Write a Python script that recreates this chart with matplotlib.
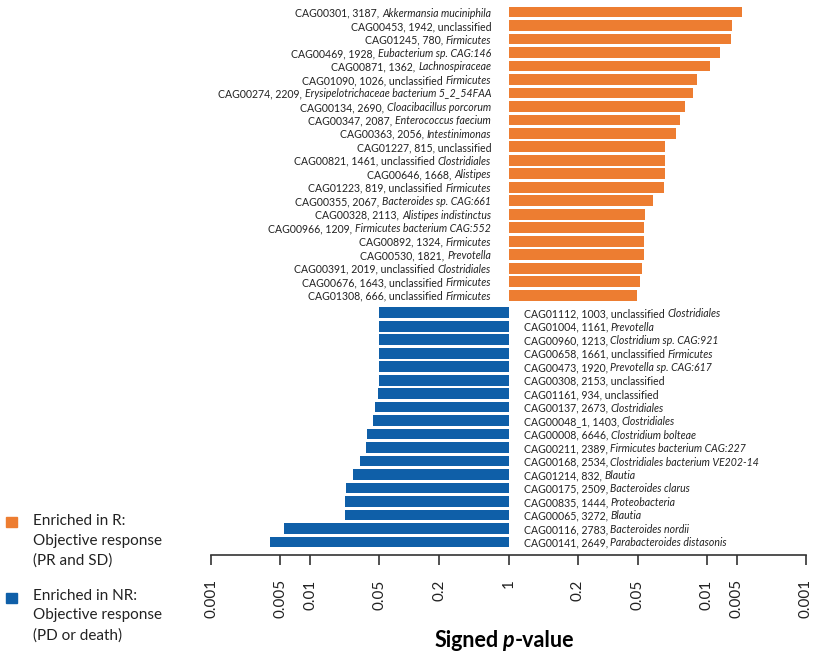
import matplotlib
matplotlib.use("Agg")
import matplotlib.pyplot as plt
from matplotlib.patches import Rectangle
from matplotlib.transforms import ScaledTranslation
import numpy as np

plt.rcParams['font.family'] = ['Lato', 'DejaVu Sans']

# ---------------- data ----------------
# Enriched in R (orange), top to bottom
r_cag = ["CAG00301", "CAG00453", "CAG01245", "CAG00469", "CAG00871", "CAG01090",
         "CAG00274", "CAG00134", "CAG00347", "CAG00363", "CAG01227", "CAG00821",
         "CAG00646", "CAG01223", "CAG00355", "CAG00328", "CAG00966", "CAG00892",
         "CAG00530", "CAG00391", "CAG00676", "CAG01308"]
r_size = [3187, 1942, 780, 1928, 1362, 1026, 2209, 2690, 2087, 2056, 815, 1461,
          1668, 819, 2067, 2113, 1209, 1324, 1821, 2019, 1643, 666]
r_plain = ["", "unclassified", "", "", "", "unclassified", "", "", "", "", "unclassified",
           "unclassified", "", "unclassified", "", "", "", "", "", "unclassified",
           "unclassified", "unclassified"]
r_italic = ["Akkermansia muciniphila", "", "Firmicutes", "Eubacterium sp. CAG:146",
            "Lachnospiraceae", "Firmicutes", "Erysipelotrichaceae bacterium 5_2_54FAA",
            "Cloacibacillus porcorum", "Enterococcus faecium", "Intestinimonas", "",
            "Clostridiales", "Alistipes", "Firmicutes", "Bacteroides sp. CAG:661",
            "Alistipes indistinctus", "Firmicutes bacterium CAG:552", "Firmicutes",
            "Prevotella", "Clostridiales", "Firmicutes", "Firmicutes"]
r_p = [0.0044, 0.0056, 0.0057, 0.0074, 0.0093, 0.0126, 0.0139, 0.0165, 0.0186,
       0.0205, 0.0263, 0.0263, 0.0263, 0.0269, 0.0347, 0.0417, 0.0427, 0.0427,
       0.0427, 0.0447, 0.0468, 0.0501]

# Enriched in NR (blue), top to bottom
nr_cag = ["CAG01112", "CAG01004", "CAG00960", "CAG00658", "CAG00473", "CAG00308",
          "CAG01161", "CAG00137", "CAG00048_1", "CAG00008", "CAG00211", "CAG00168",
          "CAG01214", "CAG00175", "CAG00835", "CAG00065", "CAG00116", "CAG00141"]
nr_size = [1003, 1161, 1213, 1661, 1920, 2153, 934, 2673, 1403, 6646, 2389, 2534,
           832, 2509, 1444, 3272, 2783, 2649]
nr_plain = ["unclassified", "", "", "unclassified", "", "unclassified", "unclassified",
            "", "", "", "", "", "", "", "", "", "", ""]
nr_italic = ["Clostridiales", "Prevotella", "Clostridium sp. CAG:921", "Firmicutes",
             "Prevotella sp. CAG:617", "", "", "Clostridiales", "Clostridiales",
             "Clostridium bolteae", "Firmicutes bacterium CAG:227",
             "Clostridiales bacterium VE202-14", "Blautia", "Bacteroides clarus",
             "Proteobacteria", "Blautia", "Bacteroides nordii", "Parabacteroides distasonis"]
nr_p = [0.049, 0.049, 0.049, 0.049, 0.049, 0.049, 0.048, 0.0455, 0.043, 0.0372,
        0.0366, 0.0321, 0.0272, 0.0231, 0.0226, 0.0226, 0.0055, 0.0039]

tick_p = [0.001, 0.005, 0.01, 0.05, 0.2, 1, 0.2, 0.05, 0.01, 0.005, 0.001]
tick_sign = [-1, -1, -1, -1, -1, 0, 1, 1, 1, 1, 1]
tick_labels = ["0.001", "0.005", "0.01", "0.05", "0.2", "1", "0.2", "0.05", "0.01", "0.005", "0.001"]

ORANGE = "#ED7D31"
BLUE = "#0F5FA8"
TXT = "#222222"

# ---------------- figure ----------------
W, H = 825, 659
DPI = 100
fig = plt.figure(figsize=(W / DPI, H / DPI), dpi=DPI)
ax = fig.add_axes([211 / W, (H - 555) / H, (806 - 211) / W, (555 - 5.3) / H])

r_y = np.arange(len(r_cag))
nr_y = len(r_cag) + 0.3 + np.arange(len(nr_cag))
r_val = -np.log10(r_p)
nr_val = np.log10(nr_p)

ax.barh(r_y, r_val, height=0.8, color=ORANGE)
ax.barh(nr_y, nr_val, height=0.8, color=BLUE)

ax.set_xlim(-3, 3)
ax.set_ylim(len(r_cag) + 0.3 + len(nr_cag) - 1 + 0.97, -0.5)

renderer = fig.canvas.get_renderer()
FS = 7.6


def shifted(dx_px):
    return ax.transData + ScaledTranslation(dx_px / DPI, 0, fig.dpi_scale_trans)


def add_label(y, cag, size, plain, ital, side):
    head = f"{cag}, {size},"
    if plain:
        head += " " + plain
    kw = dict(va="center_baseline", fontsize=FS, color=TXT)
    if side == "left":
        x = -0.175
        if ital:
            t = ax.text(x, y, ital, ha="right", style="italic", **kw)
            w = t.get_window_extent(renderer).width
            ax.text(x, y, head, ha="right", transform=shifted(-(w + 3.0)), **kw)
        else:
            ax.text(x, y, head, ha="right", **kw)
    else:
        x = 0.16
        t = ax.text(x, y, head, ha="left", **kw)
        if ital:
            w = t.get_window_extent(renderer).width
            ax.text(x, y, ital, ha="left", style="italic",
                    transform=shifted(w + 2.0), **kw)


for i in range(len(r_cag)):
    add_label(r_y[i], r_cag[i], r_size[i], r_plain[i], r_italic[i], "left")
for i in range(len(nr_cag)):
    add_label(nr_y[i], nr_cag[i], nr_size[i], nr_plain[i], nr_italic[i], "right")

# axis styling
for s in ["top", "right", "left"]:
    ax.spines[s].set_visible(False)
ax.spines["bottom"].set_color("#333333")
ax.spines["bottom"].set_linewidth(1.2)
ax.set_yticks([])
tick_pos = [s * -np.log10(p) if s != 0 else 0.0 for s, p in zip(tick_sign, tick_p)]
ax.set_xticks(tick_pos)
ax.set_xticklabels(tick_labels, rotation=90, fontsize=11, color=TXT)
ax.tick_params(axis="x", direction="out", length=7.5, width=1.2, color="#333333", pad=10)

# axis title: "Signed p-value" with italic p
TFS = 15.5
yb = (H - 647) / H
tp = fig.text(508 / W, yb, "p", ha="center", va="baseline", fontsize=TFS,
              weight="bold", style="italic", color="black")
bb = tp.get_window_extent(renderer)
fig.text((bb.x0 - 4) / W, yb, "Signed", ha="right", va="baseline", fontsize=TFS,
         weight="bold", color="black")
fig.text((bb.x1 + 0.5) / W, yb, "-value", ha="left", va="baseline", fontsize=TFS,
         weight="bold", color="black")

# legend
LFS = 11
fig.patches.append(Rectangle((6 / W, (H - 527) / H), 11 / W, 10 / H,
                             transform=fig.transFigure, color=ORANGE))
fig.patches.append(Rectangle((6 / W, (H - 603) / H), 11 / W, 10 / H,
                             transform=fig.transFigure, color=BLUE))
fig.text(33 / W, (H - 514) / H, "Enriched in R:\nObjective response\n(PR and SD)",
         ha="left", va="top", fontsize=LFS, linespacing=1.5, color=TXT)
fig.text(33 / W, (H - 589) / H, "Enriched in NR:\nObjective response\n(PD or death)",
         ha="left", va="top", fontsize=LFS, linespacing=1.5, color=TXT)

fig.savefig("out.png", dpi=DPI)
